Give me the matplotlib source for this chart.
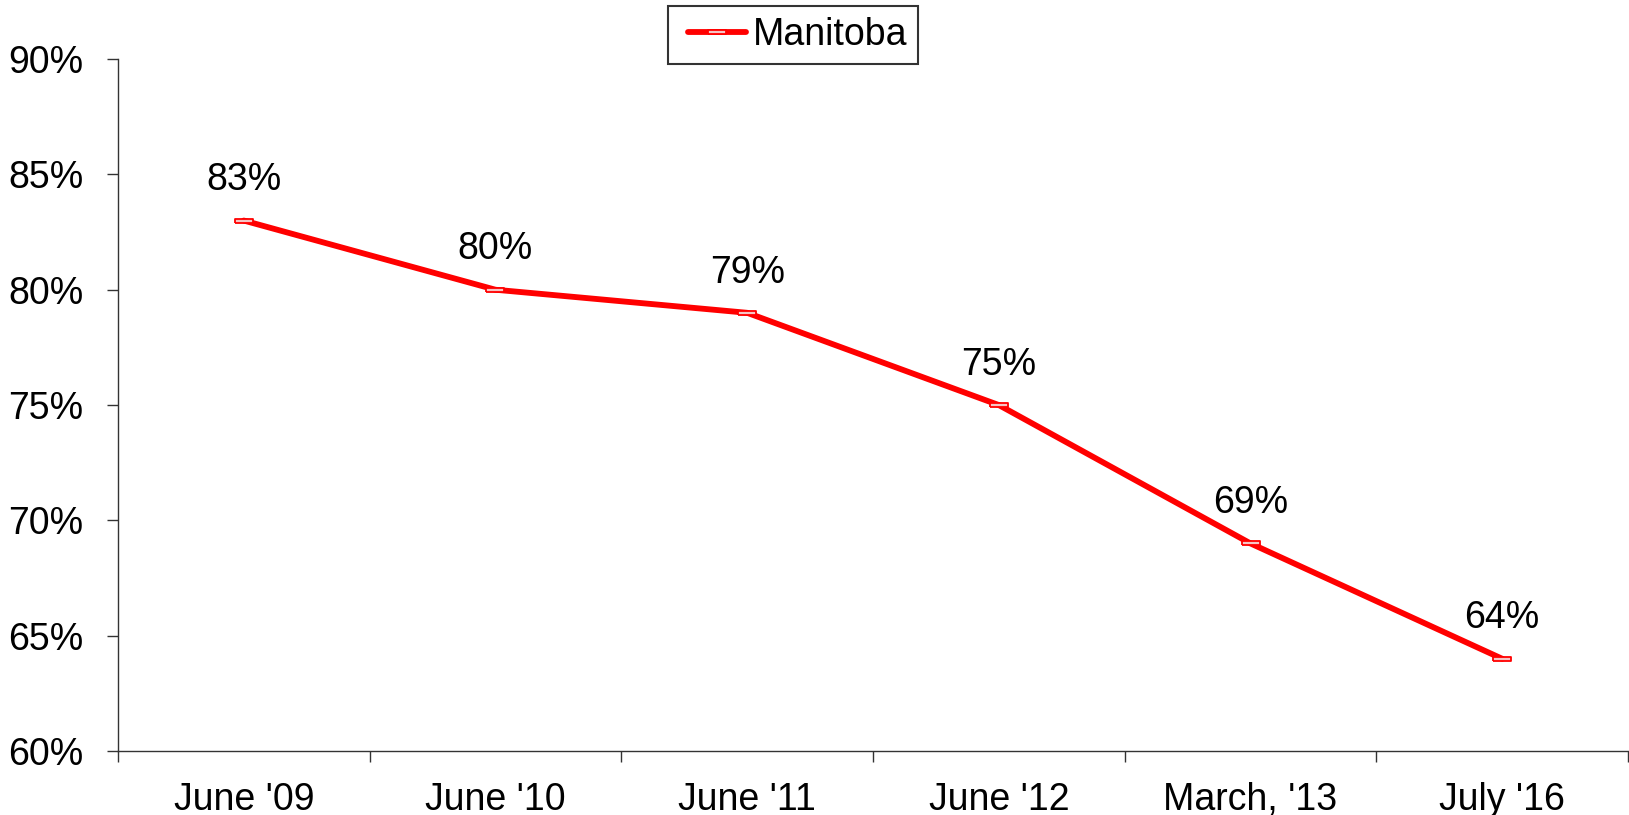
import matplotlib
matplotlib.use("Agg")
import matplotlib.pyplot as plt
from matplotlib.legend_handler import HandlerLine2D
import numpy as np

periods = ["June '09", "June '10", "June '11", "June '12", "March, '13", "July '16"]
manitoba = [83, 80, 79, 75, 69, 64]
y_ticks = [60, 65, 70, 75, 80, 85, 90]

plt.rcParams["font.family"] = ["Liberation Sans", "DejaVu Sans"]


class PaddedLine(HandlerLine2D):
    # leave some blank room on the left of the legend handle
    def get_xdata(self, legend, xdescent, ydescent, width, height, fontsize):
        left = 6
        xdata = np.array([-xdescent + left, -xdescent + width - 5])
        return xdata, np.array([(xdata[0] + xdata[1]) / 2])


fig = plt.figure(figsize=(16.29, 8.15), dpi=100)
ax = fig.add_axes([0.0724, 0.0785, 0.927, 0.849])

x = np.arange(len(periods))
# flat rectangle marker like the original spreadsheet export
rect = [(-1, -0.22), (1, -0.22), (1, 0.22), (-1, 0.22), (-1, -0.22)]
line, = ax.plot(x, manitoba, color="#FF0000", linewidth=4.2, marker=rect,
                markersize=13, markerfacecolor="#F6C4C4", markeredgecolor="#FF0000",
                markeredgewidth=1.3, label="Manitoba", solid_capstyle="round")

for xi, v in zip(x, manitoba):
    ax.annotate(f"{v}%", (xi, v), xytext=(0, 29), textcoords="offset points",
                ha="center", va="center", fontsize=27)

ax.set_xlim(-0.5, len(periods) - 0.5)
ax.set_ylim(60, 90)
ax.set_yticks(y_ticks)
ax.set_yticklabels([f"{t}%" for t in y_ticks], fontsize=27)
ax.set_xticks(x)
ax.set_xticklabels(periods, fontsize=27)
ax.set_xticks(np.arange(len(periods) + 1) - 0.5, minor=True)

ax.tick_params(axis="x", which="major", length=0, pad=22)
ax.tick_params(axis="x", which="minor", length=8, width=1, color="#333333")
ax.tick_params(axis="y", length=8, width=1, color="#333333", pad=17)

for side in ["top", "right"]:
    ax.spines[side].set_visible(False)
for side in ["left", "bottom"]:
    ax.spines[side].set_color("#333333")
    ax.spines[side].set_linewidth(1)

leg = fig.legend(handles=[line], loc="upper center", bbox_to_anchor=(0.487, 0.993),
                 fontsize=27, frameon=True, fancybox=False, edgecolor="black",
                 handlelength=1.95, handletextpad=0.0, borderpad=0.3,
                 borderaxespad=0, handler_map={line: PaddedLine()})
leg.get_frame().set_linewidth(1.5)

fig.savefig("out.png", dpi=100)
